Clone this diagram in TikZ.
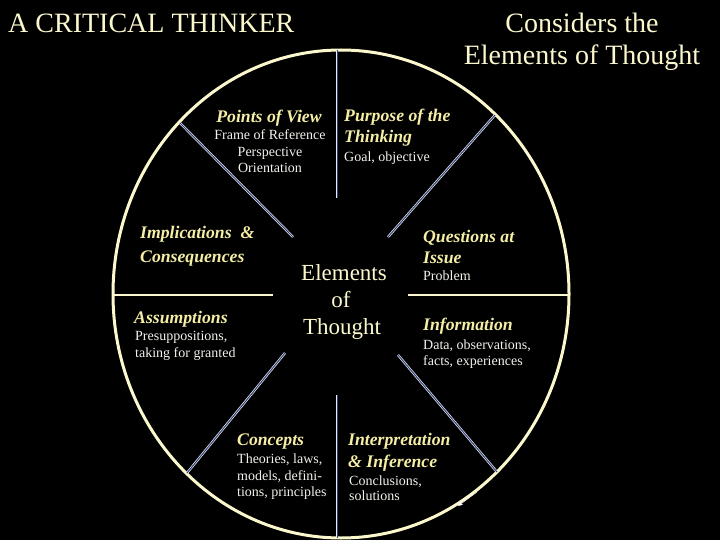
\documentclass[tikz,border=0pt]{standalone}
\usepackage{fontspec}
\setmainfont{Liberation Serif}
\usetikzlibrary{arrows.meta}
\definecolor{cream}{RGB}{252,248,205}
\definecolor{headc}{RGB}{245,238,165}
\definecolor{bodyc}{RGB}{242,242,236}
\definecolor{dlinec}{RGB}{230,236,248}
\definecolor{dgapc}{RGB}{50,62,110}
\tikzset{
 hd/.style={inner sep=0pt, text=headc, font=\fontsize{17.7}{20}\selectfont\bfseries\itshape},
 bd/.style={inner sep=0pt, text=bodyc, font=\fontsize{14}{16}\selectfont},
 ttl/.style={inner sep=0pt, text=cream, font=\fontsize{28}{32}\selectfont},
 ctr/.style={inner sep=0pt, text=cream, font=\fontsize{23}{27}\selectfont},
 rim/.style={draw=cream, line width=3pt},
 hline/.style={draw=cream, line width=2pt},
 dline/.style={draw=dlinec, line width=0.7pt, double=dgapc, double distance=1pt},
}
\begin{document}
\begin{tikzpicture}[x=1pt,y=-1pt]
\fill[black] (0,0) rectangle (720,540);
\useasboundingbox (0,0) rectangle (720,540);

% rim
\draw[rim] (341,294) ellipse [x radius=228pt, y radius=244pt];

% dividers
\draw[dline] (337,50) -- (337,198);
\draw[dline] (337,395) -- (337,538);
\draw[dline] (180,123) -- (293,237);
\draw[dline] (495,115) -- (388,237);
\draw[dline] (285,353) -- (187,473);
\draw[dline] (398,355) -- (497,472);
\draw[hline] (114,295) -- (273,295);
\draw[hline] (408,295) -- (569,295);
\draw[draw=white, line width=0.5pt, -{Stealth[length=5pt,width=4pt]}] (477,492) -- (458,506);

% titles
\node[ttl, anchor=base west] (t1) at (8,33) {A CRITICAL THINKER};
\node[ttl, anchor=base] (t2) at (582,33) {Considers the};
\node[ttl, anchor=base] (t3) at (582,65) {Elements of Thought};

% centre
\node[ctr, anchor=base] (c1) at (344,280) {Elements};
\node[ctr, anchor=base] (c2) at (341,307) {of};
\node[ctr, anchor=base] (c3) at (342,334) {Thought};

% Points of View
\node[hd, anchor=base] (pv1) at (269,123) {Points of View};
\node[bd, anchor=base] (pv2) at (270,140) {Frame of Reference};
\node[bd, anchor=base] (pv3) at (270,156.5) {Perspective};
\node[bd, anchor=base] (pv4) at (270,173) {Orientation};

% Purpose
\node[hd, anchor=base west] (pu1) at (344,122) {Purpose of the};
\node[hd, anchor=base west] (pu2) at (344,143) {Thinking};
\node[bd, anchor=base west] (pu3) at (344,162) {Goal, objective};

% Implications
\node[hd, anchor=base west] (im1) at (140,239) {Implications~~\&};
\node[hd, anchor=base west] (im2) at (140,262) {Consequences};

% Assumptions
\node[hd, anchor=base west] (as1) at (134,323) {Assumptions};
\node[bd, anchor=base west] (as2) at (135,340) {Presuppositions,};
\node[bd, anchor=base west] (as3) at (135,357) {taking for granted};

% Questions
\node[hd, anchor=base west] (qu1) at (423,242) {Questions at};
\node[hd, anchor=base west] (qu2) at (423,263) {Issue};
\node[bd, anchor=base west] (qu3) at (423,280) {Problem};

% Information
\node[hd, anchor=base west] (in1) at (423,330) {Information};
\node[bd, anchor=base west] (in2) at (423,349) {Data, observations,};
\node[bd, anchor=base west] (in3) at (423,365) {facts, experiences};

% Concepts
\node[hd, anchor=base west] (co1) at (237,445) {Concepts};
\node[bd, anchor=base west] (co2) at (237,463) {Theories, laws,};
\node[bd, anchor=base west] (co3) at (237,480) {models, defini-};
\node[bd, anchor=base west] (co4) at (237,496) {tions, principles};

% Interpretation
\node[hd, anchor=base west] (ip1) at (348,445) {Interpretation};
\node[hd, anchor=base west] (ip2) at (348,467) {\& Inference};
\node[bd, anchor=base west] (ip3) at (349,485) {Conclusions,};
\node[bd, anchor=base west] (ip4) at (349,500) {solutions};
\end{tikzpicture}
\end{document}
